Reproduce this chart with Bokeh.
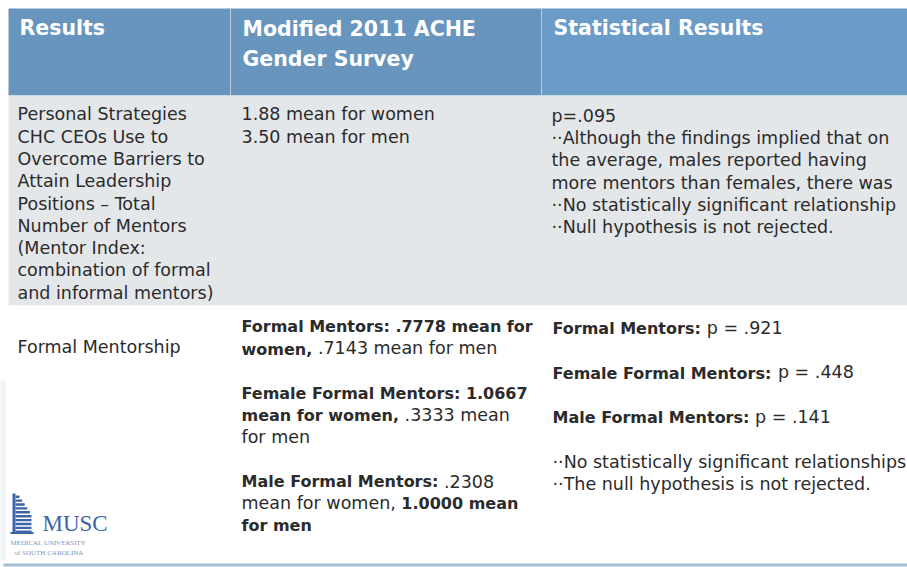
from bokeh.plotting import figure
from bokeh.models import Range1d, ColumnDataSource
from bokeh.embed import file_html
from bokeh.resources import INLINE
from bokeh.core.properties import value

# ---------------- table content ----------------
header_col1 = ["Results"]
header_col2 = ["Modified 2011 ACHE", "Gender Survey"]
header_col3 = ["Statistical Results"]

row1_col1 = ["Personal Strategies", "CHC CEOs Use to", "Overcome Barriers to",
             "Attain Leadership", "Positions \u2013 Total", "Number of Mentors",
             "(Mentor Index:", "combination of formal", "and informal mentors)"]
row1_col2 = ["1.88 mean for women", "3.50 mean for men"]
row1_col3 = ["p=.095",
             "\u00b7\u00b7Although the findings implied that on",
             "the average, males reported having",
             "more mentors than females, there was",
             "\u00b7\u00b7No statistically significant relationship",
             "\u00b7\u00b7Null hypothesis is not rejected."]

row2_col1 = ["Formal Mentorship"]
# each line is a list of (text, is_bold) segments; [] = blank line
row2_col2 = [
    [("Formal Mentors: .7778 mean for", True)],
    [("women,", True), (" .7143 mean for men", False)],
    [],
    [("Female Formal Mentors: 1.0667", True)],
    [("mean for women,", True), (" .3333 mean", False)],
    [("for men", False)],
    [],
    [("Male Formal Mentors:", True), (" .2308", False)],
    [("mean for women, ", False), ("1.0000 mean", True)],
    [("for men", True)],
]
row2_col3 = [
    [("Formal Mentors:", True), (" p = .921", False)],
    [],
    [("Female Formal Mentors:", True), (" p = .448", False)],
    [],
    [("Male Formal Mentors:", True), (" p = .141", False)],
    [],
    [("\u00b7\u00b7No statistically significant relationships", False)],
    [("\u00b7\u00b7The null hypothesis is not rejected.", False)],
]

logo_name = "MUSC"
logo_sub = ["MEDICAL UNIVERSITY", "of SOUTH CAROLINA"]

# ---------------- styling / layout ----------------
FONT = "DejaVu Sans"
REG_SIZE = 17.5
BOLD_SIZE = 16.0
HEAD_SIZE = 20.5
TEXT_COLOR = "#2b2b2b"
HEAD_LEFT = "#6895be"
HEAD_RIGHT = "#6b9bc7"
ROW1_BG = "#e4e7ea"
BASE_SHIFT = 0.38  # correction (in em) for where the renderer puts the baseline

COL_X = [17, 241, 552]
COL_EDGES = [8, 230, 541, 907]
HEAD_TOP, HEAD_BOT = 8, 95
ROW1_BOT = 305

# approximate DejaVu advance widths (units of 1/2048 em)
REG_W = {" ": 651, ".": 651, ",": 651, "=": 1716, "a": 1255, "e": 1260, "f": 721,
         "m": 1995, "n": 1298, "o": 1253, "p": 1300, "r": 842, "w": 1675}
BOLD_W = {" ": 713, ".": 780, ",": 780, ":": 819, "F": 1405, "M": 1995, "a": 1382,
          "e": 1389, "f": 891, "l": 702, "m": 2134, "n": 1458, "o": 1407, "r": 1010,
          "s": 1219, "t": 979, "w": 1901}


def text_width(s, bold):
    table = BOLD_W if bold else REG_W
    size = BOLD_SIZE if bold else REG_SIZE
    total = 0
    for ch in s:
        if ch.isdigit():
            total += 1425 if bold else 1303
        else:
            total += table.get(ch, 1300 if bold else 1200)
    return total / 2048.0 * size


W, H = 907, 567
p = figure(width=W, height=H, output_backend="svg", toolbar_location=None,
           x_range=Range1d(0, W), y_range=Range1d(H, 0),
           x_axis_location=None, y_axis_location=None, min_border=0,
           background_fill_color="white", border_fill_color="white")
p.outline_line_color = None
p.grid.visible = False

# backgrounds
p.quad(left=[0], right=[5], top=[380], bottom=[560], fill_color="#eef3f8", line_color=None)
p.quad(left=[COL_EDGES[0], COL_EDGES[2]], right=[COL_EDGES[2], COL_EDGES[3]],
       top=[HEAD_TOP, HEAD_TOP], bottom=[HEAD_BOT, HEAD_BOT],
       fill_color=[HEAD_LEFT, HEAD_RIGHT], line_color=None)
p.quad(left=[COL_EDGES[0]], right=[COL_EDGES[3]], top=[HEAD_BOT], bottom=[ROW1_BOT],
       fill_color=ROW1_BG, line_color=None)
p.segment(x0=COL_EDGES[1:3], x1=COL_EDGES[1:3], y0=[HEAD_TOP] * 2, y1=[HEAD_BOT] * 2,
          line_color="#b9cde0", line_width=1)
p.quad(left=[3], right=[COL_EDGES[3]], top=[563], bottom=[566],
       fill_color="#a3bdd6", line_color=None)

# collect text pieces
reg = dict(x=[], y=[], text=[])
bold = dict(x=[], y=[], text=[])
head = dict(x=[], y=[], text=[])


def add_plain(lines, x, y0, step, target, size):
    for i, t in enumerate(lines):
        target["x"].append(x)
        target["y"].append(y0 + i * step - BASE_SHIFT * size)
        target["text"].append(t)


def add_rich(lines, x, y0, step):
    for i, segs in enumerate(lines):
        cx = x
        for t, b in segs:
            stripped = t.lstrip(" ")
            lead = len(t) - len(stripped)
            cx += text_width(" " * lead, b)
            tgt = bold if b else reg
            size = BOLD_SIZE if b else REG_SIZE
            tgt["x"].append(cx)
            tgt["y"].append(y0 + i * step - BASE_SHIFT * size)
            tgt["text"].append(stripped)
            cx += text_width(stripped, b)


add_plain(header_col1, COL_X[0] + 2, 35.5, 30, head, HEAD_SIZE)
add_plain(header_col2, COL_X[1] + 1, 36, 30, head, HEAD_SIZE)
add_plain(header_col3, COL_X[2] + 1, 35.5, 30, head, HEAD_SIZE)

add_plain(row1_col1, COL_X[0], 120.5, 22.3, reg, REG_SIZE)
add_plain(row1_col2, COL_X[1], 120.5, 22.3, reg, REG_SIZE)
add_plain(row1_col3, COL_X[2] - 1, 122, 22.3, reg, REG_SIZE)

add_plain(row2_col1, COL_X[0], 353.3, 22.3, reg, REG_SIZE)
add_rich(row2_col2, COL_X[1], 332.5, 22.1)
add_rich(row2_col3, COL_X[2], 334, 22.3)

p.text(x="x", y="y", text="text", source=ColumnDataSource(head),
       text_font=value(FONT), text_font_size=f"{HEAD_SIZE}px", text_font_style="bold",
       text_color="white", text_baseline="alphabetic", text_align="left")
p.text(x="x", y="y", text="text", source=ColumnDataSource(reg),
       text_font=value(FONT), text_font_size=f"{REG_SIZE}px", text_font_style="normal",
       text_color=TEXT_COLOR, text_baseline="alphabetic", text_align="left")
p.text(x="x", y="y", text="text", source=ColumnDataSource(bold),
       text_font=value(FONT), text_font_size=f"{BOLD_SIZE}px", text_font_style="bold",
       text_color=TEXT_COLOR, text_baseline="alphabetic", text_align="left")

# ---------------- MUSC logo ----------------
LOGO_BLUE = "#3d64a6"
floors = list(range(10))
p.quad(left=[12], right=[15], top=[493], bottom=[533], fill_color=LOGO_BLUE, line_color=None)
p.quad(left=[15] * len(floors), right=[min(31, 19 + f * 2.6) for f in floors],
       top=[495 + f * 3.9 for f in floors], bottom=[497.4 + f * 3.9 for f in floors],
       fill_color=LOGO_BLUE, line_color=None)
p.quad(left=[10], right=[33], top=[531.5], bottom=[533.5], fill_color=LOGO_BLUE, line_color=None)
p.text(x=[42], y=[532 - BASE_SHIFT * 23], text=[logo_name], text_font=value("Liberation Serif"),
       text_font_size="23px", text_color=LOGO_BLUE, text_baseline="alphabetic")
p.text(x=[10, 14], y=[545 - BASE_SHIFT * 7, 555 - BASE_SHIFT * 7], text=logo_sub,
       text_font=value("Liberation Serif"),
       text_font_size="7px", text_color="#7d93bd", text_baseline="alphabetic")

open("out.html", "w").write(file_html(p, INLINE))
